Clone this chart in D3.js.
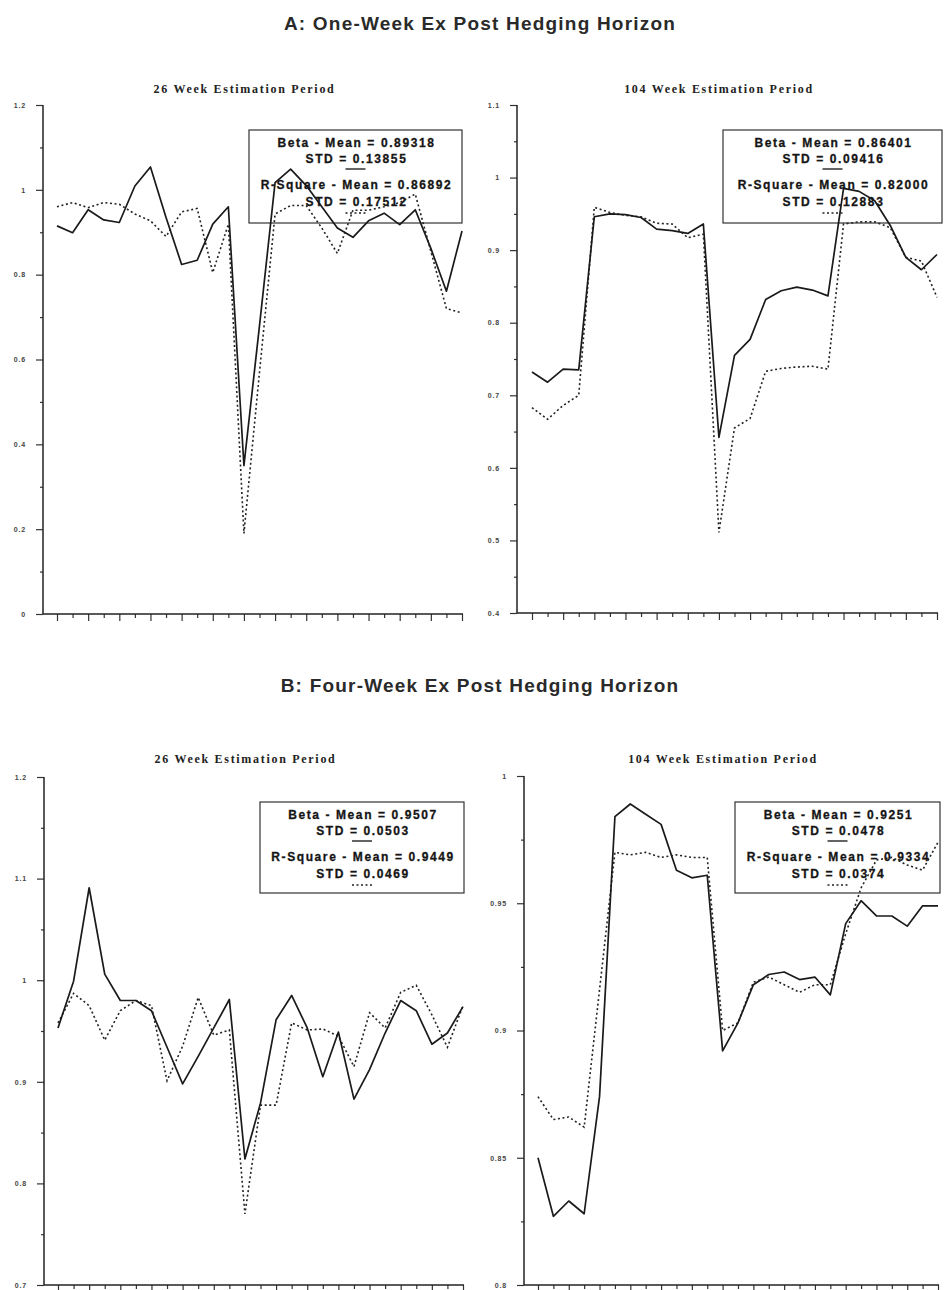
<!DOCTYPE html>
<html>
<head>
<meta charset="utf-8">
<script src="https://cdn.jsdelivr.net/npm/d3@7"></script>
<style>
body { margin: 0; background: #fff; }
svg { display: block; }
</style>
</head>
<body>
<svg id="chart"></svg>
<script>
var width = 949, height = 1290;

// observation number along the x axis (27 sub-periods)
var obs = [1,2,3,4,5,6,7,8,9,10,11,12,13,14,15,16,17,18,19,20,21,22,23,24,25,26,27];

// Panel A: one-week horizon
var betaA26 = [0.915,0.899,0.953,0.929,0.923,1.009,1.054,0.935,0.824,0.834,0.919,0.960,0.350,0.680,1.017,1.049,1.010,0.960,0.910,0.888,0.927,0.945,0.918,0.953,0.862,0.761,0.903];
var rsqA26  = [0.960,0.970,0.958,0.970,0.966,0.943,0.927,0.890,0.948,0.956,0.805,0.919,0.190,0.570,0.943,0.963,0.963,0.910,0.850,0.952,0.952,0.960,0.970,0.990,0.855,0.720,0.710];
var betaA104 = [0.732,0.718,0.736,0.735,0.946,0.950,0.949,0.945,0.929,0.927,0.923,0.936,0.642,0.755,0.777,0.832,0.844,0.849,0.845,0.837,0.985,0.981,0.968,0.934,0.890,0.873,0.894];
var rsqA104  = [0.683,0.667,0.686,0.700,0.959,0.952,0.948,0.946,0.937,0.936,0.917,0.922,0.511,0.655,0.668,0.733,0.737,0.739,0.740,0.736,0.936,0.939,0.939,0.931,0.890,0.885,0.835];

// Panel B: four-week horizon
var betaB26 = [0.953,0.999,1.091,1.006,0.980,0.980,0.970,0.934,0.898,0.925,0.953,0.981,0.824,0.879,0.961,0.985,0.953,0.905,0.949,0.883,0.912,0.948,0.980,0.970,0.937,0.948,0.974];
var rsqB26  = [0.958,0.987,0.975,0.941,0.970,0.980,0.975,0.901,0.935,0.983,0.946,0.951,0.770,0.877,0.877,0.958,0.951,0.952,0.945,0.915,0.968,0.953,0.988,0.995,0.966,0.934,0.975];
var betaB104 = [0.850,0.827,0.833,0.828,0.874,0.984,0.989,0.985,0.981,0.963,0.960,0.961,0.892,0.903,0.918,0.922,0.923,0.920,0.921,0.914,0.942,0.951,0.945,0.945,0.941,0.949,0.949];
var rsqB104  = [0.874,0.865,0.866,0.862,0.916,0.970,0.969,0.970,0.968,0.969,0.968,0.968,0.900,0.903,0.919,0.921,0.918,0.915,0.918,0.918,0.938,0.956,0.967,0.968,0.965,0.963,0.974];

// y tick values and labels
var ticksA26 = [0,0.2,0.4,0.6,0.8,1,1.2];
var labelsA26 = ["0","0.2","0.4","0.6","0.8","1","1.2"];
var minorA26 = [0.1,0.3,0.5,0.7,0.9,1.1];
var ticksA104 = [0.4,0.5,0.6,0.7,0.8,0.9,1,1.1];
var labelsA104 = ["0.4","0.5","0.6","0.7","0.8","0.9","1","1.1"];
var minorA104 = [0.45,0.55,0.65,0.75,0.85,0.95,1.05];
var ticksB26 = [0.7,0.8,0.9,1,1.1,1.2];
var labelsB26 = ["0.7","0.8","0.9","1","1.1","1.2"];
var minorB26 = [0.75,0.85,0.95,1.05,1.15];
var ticksB104 = [0.8,0.85,0.9,0.95,1];
var labelsB104 = ["0.8","0.85","0.9","0.95","1"];
var minorB104 = [0.825,0.875,0.925,0.975];

// legend texts
var legendA26 = ["Beta - Mean = 0.89318","STD = 0.13855","R-Square - Mean = 0.86892","STD = 0.17512"];
var legendA104 = ["Beta - Mean = 0.86401","STD = 0.09416","R-Square - Mean = 0.82000","STD = 0.12883"];
var legendB26 = ["Beta - Mean = 0.9507","STD = 0.0503","R-Square - Mean = 0.9449","STD = 0.0469"];
var legendB104 = ["Beta - Mean = 0.9251","STD = 0.0478","R-Square - Mean = 0.9334","STD = 0.0374"];

var svg = d3.select("#chart")
    .attr("width", width)
    .attr("height", height);

// section titles
function sectionTitle(label, y) {
    svg.append("text")
        .attr("x", 480)
        .attr("y", y)
        .attr("text-anchor", "middle")
        .style("font-family", "'Liberation Sans', Arial, sans-serif")
        .style("font-weight", "bold")
        .style("font-size", "19px")
        .style("letter-spacing", "1.2px")
        .style("fill", "#2a2a2a")
        .text(label);
}
sectionTitle("A: One-Week Ex Post Hedging Horizon", 30);
sectionTitle("B: Four-Week Ex Post Hedging Horizon", 692);

var panels = [
    {sub: "26 Week Estimation Period", x0: 43, xFirst: 57, xLast: 462, top: 105, bottom: 614, dom: [0, 1.2],
     beta: betaA26, rsq: rsqA26, ticks: ticksA26, labels: labelsA26, minor: minorA26, legend: legendA26,
     subY: 93, box: [249, 130, 213, 93]},
    {sub: "104 Week Estimation Period", x0: 517, xFirst: 532, xLast: 937, top: 105, bottom: 613, dom: [0.4, 1.1],
     beta: betaA104, rsq: rsqA104, ticks: ticksA104, labels: labelsA104, minor: minorA104, legend: legendA104,
     subY: 93, box: [723, 130, 219, 93]},
    {sub: "26 Week Estimation Period", x0: 44, xFirst: 58, xLast: 463, top: 777, bottom: 1285, dom: [0.7, 1.2],
     beta: betaB26, rsq: rsqB26, ticks: ticksB26, labels: labelsB26, minor: minorB26, legend: legendB26,
     subY: 763, box: [260, 802, 204, 91]},
    {sub: "104 Week Estimation Period", x0: 524, xFirst: 538, xLast: 938, top: 776, bottom: 1285, dom: [0.8, 1.0],
     beta: betaB104, rsq: rsqB104, ticks: ticksB104, labels: labelsB104, minor: minorB104, legend: legendB104,
     subY: 763, box: [735, 802, 205, 91]}
];

panels.forEach(function(p) {
    var g = svg.append("g");

    var x = d3.scaleLinear().domain([1, 27]).range([p.xFirst, p.xLast]);
    var y = d3.scaleLinear().domain(p.dom).range([p.bottom, p.top]);

    // subtitle
    g.append("text")
        .attr("x", (p.x0 + p.xLast) / 2 - 8)
        .attr("y", p.subY)
        .attr("text-anchor", "middle")
        .style("font-family", "'Liberation Serif', 'DejaVu Serif', serif")
        .style("font-weight", "bold")
        .style("font-size", "12px")
        .style("letter-spacing", "1.7px")
        .style("fill", "#222")
        .text(p.sub);

    // y axis: labelled ticks
    var yAxis = g.append("g")
        .attr("transform", "translate(" + p.x0 + ",0)")
        .call(d3.axisLeft(y)
            .tickValues(p.ticks)
            .tickSize(7)
            .tickSizeOuter(0)
            .tickPadding(10)
            .tickFormat(function(d, i) { return p.labels[i]; }));
    yAxis.select(".domain").remove();
    yAxis.selectAll("text")
        .style("font-family", "'Liberation Sans', Arial, sans-serif")
        .style("font-weight", "bold")
        .style("font-size", "7px")
        .style("letter-spacing", "0.8px")
        .style("fill", "#444");

    // y axis: minor ticks
    var yMinor = g.append("g")
        .attr("transform", "translate(" + p.x0 + ",0)")
        .call(d3.axisLeft(y).tickValues(p.minor).tickSize(3).tickSizeOuter(0).tickFormat(""));
    yMinor.select(".domain").remove();

    // x axis: long ticks on odd observations, short between
    var xMajor = g.append("g")
        .attr("transform", "translate(0," + p.bottom + ")")
        .call(d3.axisBottom(x).tickValues(obs.filter(function(d) { return d % 2 == 1; }))
            .tickSize(7).tickSizeOuter(0).tickFormat(""));
    xMajor.select(".domain").remove();
    var xMinor = g.append("g")
        .attr("transform", "translate(0," + p.bottom + ")")
        .call(d3.axisBottom(x).tickValues(obs.filter(function(d) { return d % 2 == 0; }))
            .tickSize(4).tickSizeOuter(0).tickFormat(""));
    xMinor.select(".domain").remove();

    g.selectAll(".tick line")
        .attr("stroke", "#333")
        .attr("stroke-width", 1.2);

    // axis frame lines
    g.append("line")
        .attr("x1", p.x0).attr("x2", p.x0)
        .attr("y1", p.top).attr("y2", p.bottom)
        .attr("stroke", "#222").attr("stroke-width", 1.5);
    g.append("line")
        .attr("x1", p.x0).attr("x2", p.xLast + 1)
        .attr("y1", p.bottom).attr("y2", p.bottom)
        .attr("stroke", "#222").attr("stroke-width", 1.5);

    // legend box
    var b = p.box;
    var cx = b[0] + b[2] / 2;
    g.append("rect")
        .attr("x", b[0]).attr("y", b[1])
        .attr("width", b[2]).attr("height", b[3])
        .attr("fill", "none")
        .attr("stroke", "#333")
        .attr("stroke-width", 1.2);
    var offs = [17, 33, 59, 76];
    g.selectAll(".legend-text")
        .data(p.legend)
        .enter().append("text")
        .attr("class", "legend-text")
        .attr("x", cx + 1)
        .attr("y", function(d, i) { return b[1] + offs[i]; })
        .attr("text-anchor", "middle")
        .style("font-family", "'Liberation Sans', Arial, sans-serif")
        .style("font-weight", "bold")
        .style("font-size", "12px")
        .style("letter-spacing", "1.6px")
        .style("fill", "#151515")
        .style("stroke", "#151515")
        .style("stroke-width", 0.3)
        .text(function(d) { return d; });
    g.append("line")
        .attr("x1", cx - 10).attr("x2", cx + 10)
        .attr("y1", b[1] + 39).attr("y2", b[1] + 39)
        .attr("stroke", "#222").attr("stroke-width", 1.4);
    g.append("line")
        .attr("x1", cx - 10).attr("x2", cx + 10)
        .attr("y1", b[1] + 83).attr("y2", b[1] + 83)
        .attr("stroke", "#222").attr("stroke-width", 1.4)
        .attr("stroke-dasharray", "2,2.5");

    // series lines
    var line = d3.line()
        .x(function(d, i) { return x(obs[i]); })
        .y(function(d) { return y(d); });

    g.append("path")
        .datum(p.rsq)
        .attr("d", line)
        .attr("fill", "none")
        .attr("stroke", "#222")
        .attr("stroke-width", 1.6)
        .attr("stroke-dasharray", "2,2.6");

    g.append("path")
        .datum(p.beta)
        .attr("d", line)
        .attr("fill", "none")
        .attr("stroke", "#1a1a1a")
        .attr("stroke-width", 1.7)
        .attr("stroke-linejoin", "round");
});
</script>
</body>
</html>
